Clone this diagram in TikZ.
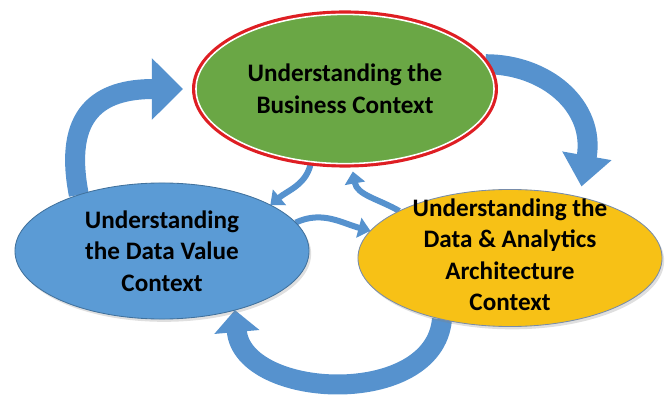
\documentclass[tikz,border=0pt]{standalone}
\usepackage{fontspec}
\setmainfont{Carlito}
\usepackage{tikz}
\usetikzlibrary{shapes.geometric}
\usetikzlibrary{backgrounds}
\usetikzlibrary{arrows.meta}
\usetikzlibrary{shadows}
\definecolor{bizgreen}{RGB}{106,167,69}
\definecolor{bizred}{RGB}{222,30,35}
\definecolor{valblue}{RGB}{91,155,213}
\definecolor{valedge}{RGB}{65,113,156}
\definecolor{archyellow}{RGB}{247,193,22}
\definecolor{archedge}{RGB}{120,140,170}
\definecolor{arrowblue}{RGB}{86,146,206}
\tikzset{bubble/.style={ellipse,inner sep=0pt,outer sep=0pt,drop shadow={opacity=0.25,shadow xshift=1.5pt,shadow yshift=-2pt}},
bubbletext/.style={align=center,font=\fontsize{17.9}{22.4}\selectfont\bfseries},
bigarrow/.style={draw=arrowblue,line width=0.5cm},
smallarrow/.style={draw=arrowblue,line width=0.15cm,-{Triangle[width=0.5cm,length=0.3cm]}}}

\begin{document}
\begin{tikzpicture}[x=0.025cm,y=0.025cm]
\useasboundingbox (0,0) rectangle (668,394);
\node[bubble,fill=bizgreen,draw=white,line width=1.1pt,preaction={draw=bizred,line width=5.6pt},minimum width=7.45cm,minimum height=3.73cm] (business) at (345,305) {};
\node[bubble,fill=valblue,draw=valedge,line width=0.6pt,minimum width=7.35cm,minimum height=3.4cm] (value) at (162,143) {};
\node[bubble,fill=archyellow,draw=archedge,line width=0.6pt,minimum width=7.6cm,minimum height=3.425cm] (arch) at (510,136) {};
\node[bubbletext] (businesslabel) at (business) {Understanding the\\Business Context};
\node[bubbletext] (valuelabel) at (value) {Understanding\\the Data Value\\Context};
\node[bubbletext] (archlabel) at (510,139) {Understanding the\\Data \& Analytics\\Architecture\\Context};
\begin{scope}[on background layer]
\draw[bigarrow,-{Triangle[width=1.5cm,length=0.78cm]}] (value.146) to[out=101,in=180,out distance=2.07cm,in distance=2.1cm] ([shift={(-13,0)}]business.west);
\draw[bigarrow,-{Triangle[width=1.2cm,length=0.78cm]}] (business.10) to[out=0,in=80,out distance=1.5cm,in distance=2.05cm] ([shift={(9,9)}]arch.45);
\draw[bigarrow,-{Triangle[width=1.1cm,length=0.55cm]}] (arch.-138) to[out=-95,in=-85,out distance=2.25cm,in distance=2.25cm] (value.-39);
%\draw[bigarrow] (value.-39) -- (arch.-138);
\draw[smallarrow] (business.-115) to[out=-100,in=40] (value.23);
\draw[smallarrow] (arch.157) to[out=150,in=-80] ([shift={(0,-8)}]business.-84);
\draw[smallarrow] (value.12.5) to[out=25,in=165] (arch.169);
\end{scope}
\end{tikzpicture}
\end{document}
